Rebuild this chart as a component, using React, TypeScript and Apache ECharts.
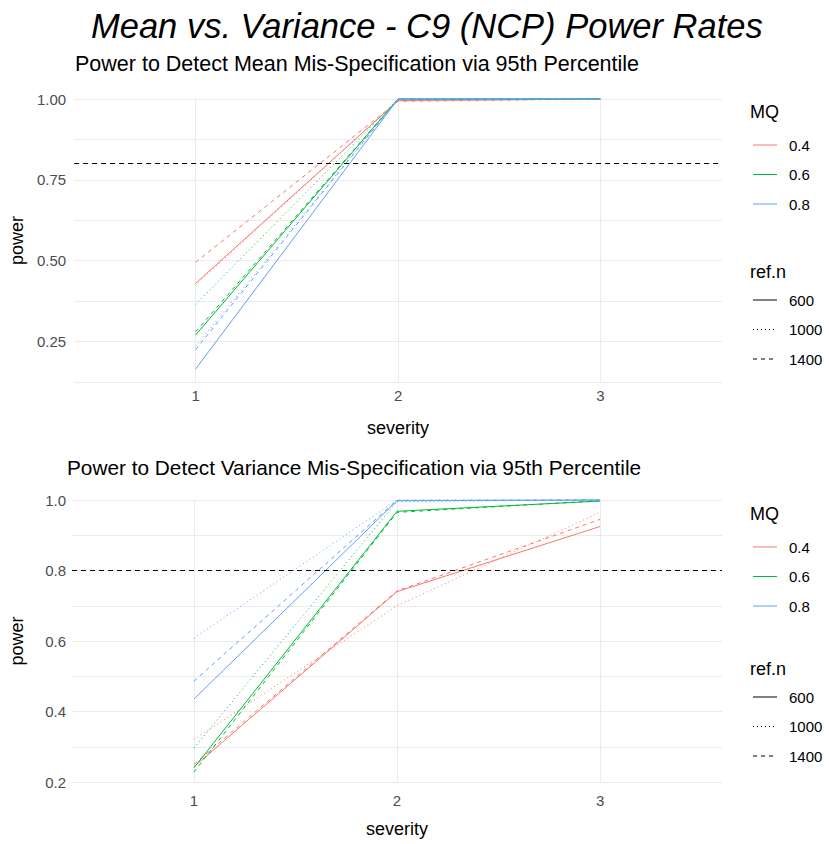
import React, { useEffect, useRef } from "react";
import * as echarts from "echarts";

// ---------- data ----------
const severity = [1, 2, 3];
const mqLevels = ["0.4", "0.6", "0.8"];
const refnLevels = ["600", "1000", "1400"];
const yTicksMean = [0.25, 0.5, 0.75, 1.0];
const yTicksVar = [0.2, 0.4, 0.6, 0.8, 1.0];
const threshold = 0.8;

// Mean mis-specification panel
const mean_MQ04_n600 = [0.43, 0.995, 1.0];
const mean_MQ04_n1000 = [0.425, 0.995, 1.0];
const mean_MQ04_n1400 = [0.495, 0.993, 1.0];
const mean_MQ06_n600 = [0.27, 1.0, 1.0];
const mean_MQ06_n1000 = [0.365, 1.0, 1.0];
const mean_MQ06_n1400 = [0.28, 1.0, 1.0];
const mean_MQ08_n600 = [0.165, 1.0, 1.0];
const mean_MQ08_n1000 = [0.235, 1.0, 1.0];
const mean_MQ08_n1400 = [0.225, 1.0, 1.0];

// Variance mis-specification panel
const var_MQ04_n600 = [0.243, 0.74, 0.925];
const var_MQ04_n1000 = [0.32, 0.7, 0.965];
const var_MQ04_n1400 = [0.25, 0.742, 0.945];
const var_MQ06_n600 = [0.24, 0.968, 0.997];
const var_MQ06_n1000 = [0.296, 0.996, 1.0];
const var_MQ06_n1400 = [0.228, 0.965, 0.998];
const var_MQ08_n600 = [0.435, 0.998, 1.0];
const var_MQ08_n1000 = [0.608, 1.0, 1.0];
const var_MQ08_n1400 = [0.486, 0.999, 1.0];

const meanTable = [
  [mean_MQ04_n600, mean_MQ04_n1000, mean_MQ04_n1400],
  [mean_MQ06_n600, mean_MQ06_n1000, mean_MQ06_n1400],
  [mean_MQ08_n600, mean_MQ08_n1000, mean_MQ08_n1400],
];
const varTable = [
  [var_MQ04_n600, var_MQ04_n1000, var_MQ04_n1400],
  [var_MQ06_n600, var_MQ06_n1000, var_MQ06_n1400],
  [var_MQ08_n600, var_MQ08_n1000, var_MQ08_n1400],
];

// ---------- styles ----------
const FONT = "'Liberation Sans', Arial, sans-serif";
const mqColors = ["#F8766D", "#00BA38", "#619CFF"];
const refnDash: any[] = ["solid", [1, 3], [4, 4]];
const gridColor = "#ebebeb";
const tickColor = "#4d4d4d";

function buildSeries(table: number[][][], axisIndex: number) {
  const out: any[] = [];
  table.forEach((rows, ci) => {
    rows.forEach((vals, li) => {
      out.push({
        type: "line",
        name: `MQ ${mqLevels[ci]} / ref.n ${refnLevels[li]}`,
        xAxisIndex: axisIndex,
        yAxisIndex: axisIndex,
        data: severity.map((s, i) => [s, vals[i]]),
        symbol: "none",
        clip: false,
        lineStyle: { color: mqColors[ci], width: 1, type: refnDash[li] },
        itemStyle: { color: mqColors[ci] },
        emphasis: { disabled: true },
      });
    });
  });
  out.push({
    type: "line",
    xAxisIndex: axisIndex,
    yAxisIndex: axisIndex,
    data: [],
    symbol: "none",
    markLine: {
      silent: true,
      symbol: ["none", "none"],
      label: { show: false },
      lineStyle: { color: "#000", width: 1.2, type: [5, 4] },
      data: [{ yAxis: threshold }],
    },
  });
  return out;
}

function legendGraphics(top: number, gap: number, refTop: number) {
  const els: any[] = [];
  els.push({
    type: "text",
    left: 750,
    top: top - 10,
    style: { text: "MQ", font: `18px ${FONT}`, fill: "#000" },
  });
  mqLevels.forEach((lv, i) => {
    const y = top + 32 + i * gap;
    els.push({
      type: "line",
      shape: { x1: 753, y1: y, x2: 777, y2: y },
      style: { stroke: mqColors[i], lineWidth: 1 },
    });
    els.push({
      type: "text",
      x: 789,
      y: y,
      style: { text: lv, font: `15px ${FONT}`, fill: "#000", verticalAlign: "middle" },
    });
  });
  els.push({
    type: "text",
    left: 750,
    top: refTop - 10,
    style: { text: "ref.n", font: `18px ${FONT}`, fill: "#000" },
  });
  refnLevels.forEach((lv, i) => {
    const y = refTop + 27 + i * gap;
    const d = refnDash[i];
    els.push({
      type: "line",
      shape: { x1: 753, y1: y, x2: 777, y2: y },
      style: { stroke: "#000", lineWidth: 1, lineDash: d === "solid" ? null : d },
    });
    els.push({
      type: "text",
      x: 789,
      y: y,
      style: { text: lv, font: `15px ${FONT}`, fill: "#000", verticalAlign: "middle" },
    });
  });
  return els;
}

function xAxisFor(gridIndex: number, labelMargin: number, nameGap: number) {
  return {
    type: "value",
    gridIndex,
    min: 0.4,
    max: 3.6,
    name: "severity",
    nameLocation: "middle",
    nameGap,
    nameTextStyle: { fontFamily: FONT, fontSize: 18, color: "#000" },
    axisLine: { show: false },
    axisTick: { show: false, customValues: severity },
    axisLabel: {
      customValues: severity,
      fontFamily: FONT,
      fontSize: 15,
      color: tickColor,
      margin: labelMargin,
      formatter: (v: number) => String(v),
    },
    splitLine: { show: true, lineStyle: { color: gridColor, width: 1 } },
  };
}

function yAxisFor(
  gridIndex: number,
  min: number,
  interval: number,
  ticks: number[],
  digits: number,
  margin: number,
  nameGap: number
) {
  return {
    type: "value",
    gridIndex,
    min,
    max: 1.0,
    interval,
    name: "power",
    nameLocation: "middle",
    nameGap,
    nameTextStyle: { fontFamily: FONT, fontSize: 18, color: "#000" },
    axisLine: { show: false },
    axisTick: { show: false },
    axisLabel: {
      fontFamily: FONT,
      fontSize: 15,
      color: tickColor,
      margin,
      formatter: (v: number) =>
        ticks.some((t) => Math.abs(t - v) < 1e-6) ? v.toFixed(digits) : "",
    },
    splitLine: { show: true, lineStyle: { color: gridColor, width: 1 } },
  };
}

export default function App() {
  const ref = useRef<HTMLDivElement>(null);
  useEffect(() => {
    document.body.style.margin = "0";
    if (!ref.current) return;
    const chart = echarts.init(ref.current, undefined, { renderer: "svg" });
    chart.setOption({
      animation: false,
      backgroundColor: "#fff",
      title: [
        {
          text: "Mean vs. Variance - C9 (NCP) Power Rates",
          left: 86,
          top: 3,
          textStyle: { fontFamily: FONT, fontSize: 34.5, fontStyle: "italic", fontWeight: "normal", color: "#000" },
        },
        {
          text: "Power to Detect Mean Mis-Specification via 95th Percentile",
          left: 70,
          top: 48,
          textStyle: { fontFamily: FONT, fontSize: 21.5, fontWeight: "normal", color: "#000" },
        },
        {
          text: "Power to Detect Variance Mis-Specification via 95th Percentile",
          left: 62,
          top: 452,
          textStyle: { fontFamily: FONT, fontSize: 20.8, fontWeight: "normal", color: "#000" },
        },
      ],
      grid: [
        { left: 73, top: 99, width: 649, height: 283, containLabel: false },
        { left: 66, top: 500, width: 656, height: 282, containLabel: false },
      ],
      xAxis: [xAxisFor(0, 6, 37), xAxisFor(1, 11, 38)],
      yAxis: [
        yAxisFor(0, 0.125, 0.125, yTicksMean, 2, 8, 48),
        yAxisFor(1, 0.2, 0.1, yTicksVar, 1, 6, 46),
      ],
      series: [...buildSeries(meanTable, 0), ...buildSeries(varTable, 1)],
      graphic: [...legendGraphics(113, 29.5, 273), ...legendGraphics(515, 29.5, 670)],
    });
    return () => chart.dispose();
  }, []);
  return <div ref={ref} style={{ width: 829, height: 844 }} />;
}
